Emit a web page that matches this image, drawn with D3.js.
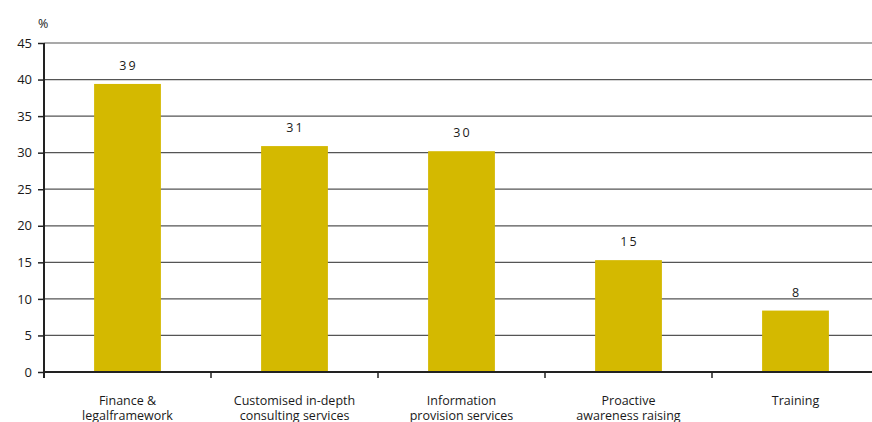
<!DOCTYPE html>
<html>
<head>
<meta charset="utf-8">
<script src="https://cdn.jsdelivr.net/npm/d3@7"></script>
<style>
  html, body { margin: 0; padding: 0; background: #fff; }
  svg { display: block; }
  text { font-family: "Open Sans", "Noto Sans", sans-serif; fill: #1a1a1a; }
</style>
</head>
<body>
<svg id="chart" width="872" height="422"></svg>
<script>
// Share of respondents by support area (%)
const categories = [
  ["Finance &", "legalframework"],
  ["Customised in-depth", "consulting services"],
  ["Information", "provision services"],
  ["Proactive", "awareness raising"],
  ["Training"]
];
const values = [39.4, 30.9, 30.2, 15.3, 8.4];
const yTicks = [0, 5, 10, 15, 20, 25, 30, 35, 40, 45];

const svg = d3.select("#chart");
const m = { left: 44, right: 879, top: 43, bottom: 372 };

const x = d3.scaleBand()
  .domain(d3.range(categories.length))
  .range([m.left, m.right])
  .padding(0);

const y = d3.scaleLinear().domain([0, 45]).range([m.bottom, m.top]);

const barW = x.bandwidth() * 0.4;

// horizontal gridlines
svg.append("g")
  .selectAll("line")
  .data(yTicks.filter(d => d > 0))
  .join("line")
  .attr("x1", m.left).attr("x2", 872)
  .attr("y1", d => y(d)).attr("y2", d => y(d))
  .attr("stroke", "#555").attr("stroke-width", 1.2);

// bars
svg.append("g")
  .selectAll("rect")
  .data(values)
  .join("rect")
  .attr("x", (d, i) => x(i) + (x.bandwidth() - barW) / 2)
  .attr("width", barW)
  .attr("y", d => y(d))
  .attr("height", d => y(0) - y(d))
  .attr("fill", "#d4b900");

// value labels
svg.append("g")
  .selectAll("text")
  .data(values)
  .join("text")
  .attr("x", (d, i) => x(i) + x.bandwidth() / 2 + 1)
  .attr("y", d => y(d) - 14)
  .attr("text-anchor", "middle")
  .attr("font-size", 12.5)
  .attr("letter-spacing", 2)
  .text(d => Math.round(d));

// y axis
const yAxis = d3.axisLeft(y).tickValues(yTicks).tickSize(6).tickPadding(6);
const gy = svg.append("g").attr("transform", `translate(${m.left},0)`).call(yAxis);
gy.select(".domain").remove();
gy.selectAll(".tick line").attr("stroke", "#222").attr("stroke-width", 1.5);
gy.selectAll(".tick text").attr("font-size", 13).attr("fill", "#1a1a1a")
  .attr("font-family", "\"Open Sans\", \"Noto Sans\", sans-serif");
svg.append("line")
  .attr("x1", m.left).attr("x2", m.left)
  .attr("y1", m.top).attr("y2", m.bottom + 6)
  .attr("stroke", "#222").attr("stroke-width", 2);

// x axis baseline and category separators
svg.append("line")
  .attr("x1", m.left).attr("x2", 872)
  .attr("y1", m.bottom).attr("y2", m.bottom)
  .attr("stroke", "#222").attr("stroke-width", 2);
svg.append("g")
  .selectAll("line")
  .data(d3.range(1, categories.length))
  .join("line")
  .attr("x1", d => x(d)).attr("x2", d => x(d))
  .attr("y1", m.bottom).attr("y2", m.bottom + 6)
  .attr("stroke", "#222").attr("stroke-width", 1.5);

// category labels
const cat = svg.append("g")
  .selectAll("text")
  .data(categories)
  .join("text")
  .attr("x", (d, i) => x(i) + x.bandwidth() / 2)
  .attr("y", 405)
  .attr("text-anchor", "middle")
  .attr("font-size", 12.5);
cat.selectAll("tspan")
  .data(d => d)
  .join("tspan")
  .attr("x", function() { return this.parentNode.getAttribute("x"); })
  .attr("dy", (d, i) => i === 0 ? 0 : 15)
  .text(d => d);

// unit
svg.append("text")
  .attr("x", 38).attr("y", 28)
  .attr("font-size", 12.5)
  .text("%");
</script>
</body>
</html>
